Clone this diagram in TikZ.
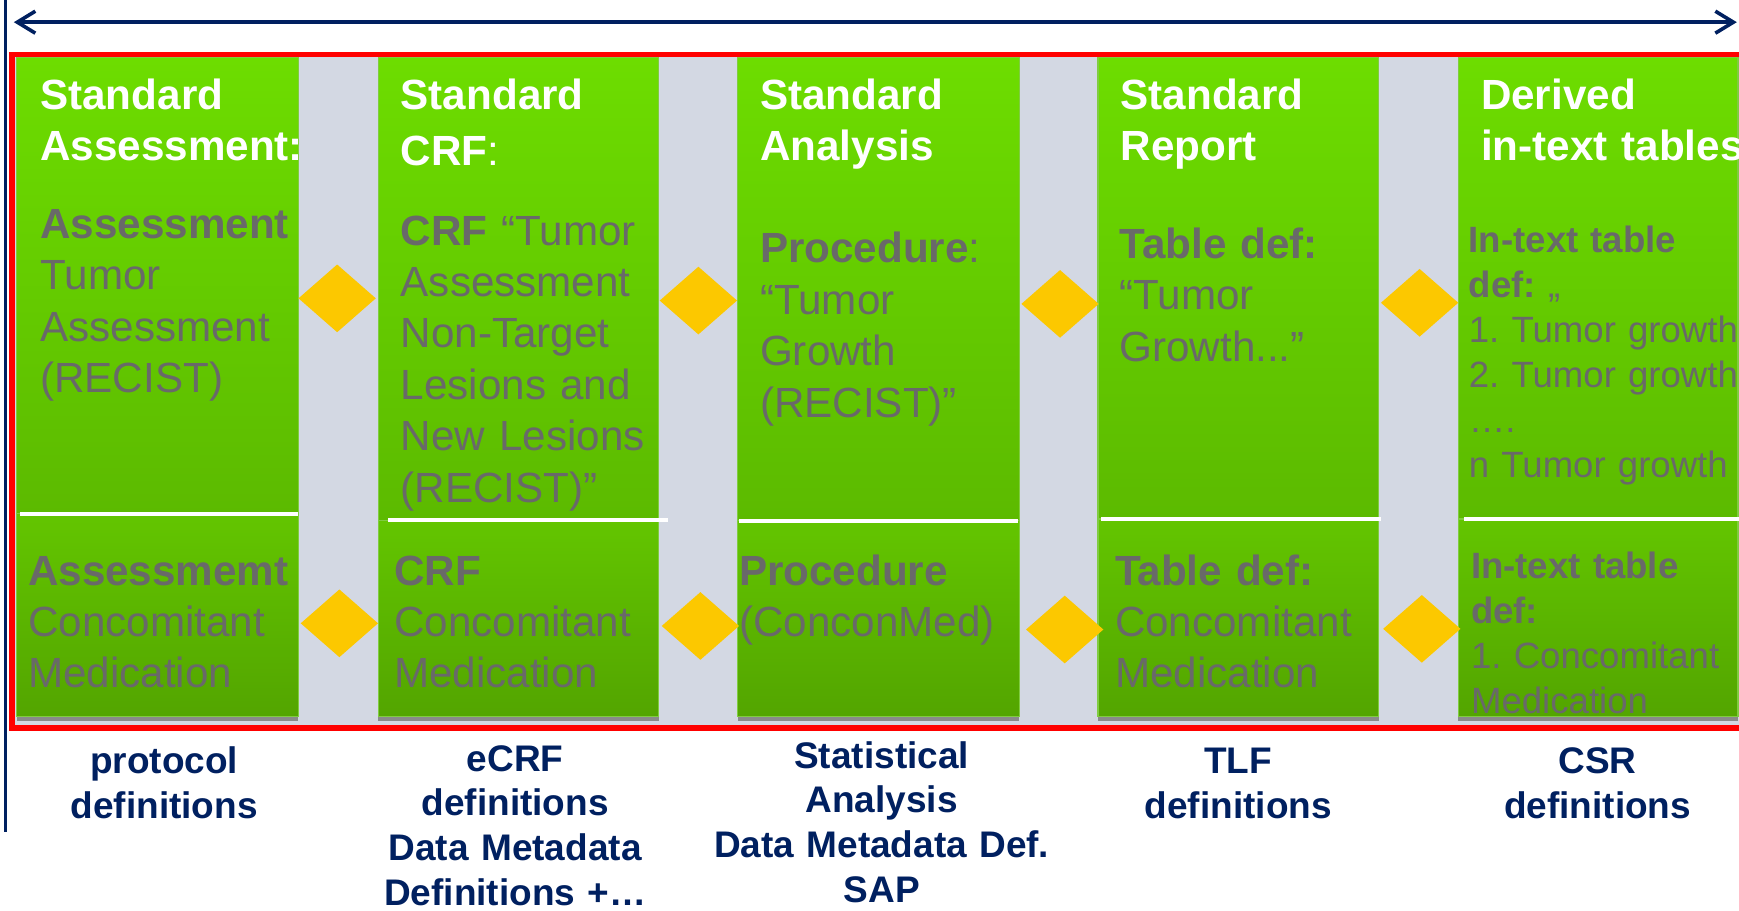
\documentclass[tikz,border=0pt]{standalone}
\usepackage{fontspec}
\setmainfont{Liberation Sans}
\usetikzlibrary{arrows.meta,shapes.geometric}
\frenchspacing
\definecolor{navy}{HTML}{002060}
\definecolor{txtgray}{HTML}{696969}
\definecolor{gapbg}{HTML}{D3D8E3}
\definecolor{gtop}{HTML}{6DDD00}
\definecolor{gmid}{HTML}{5CBA00}
\definecolor{gbtop}{HTML}{63C500}
\definecolor{gbbot}{HTML}{53A500}
\definecolor{gedge}{HTML}{80CC40}
\definecolor{yel}{HTML}{FCC800}
\definecolor{shadowgray}{HTML}{8A8A8A}
\definecolor{redline}{HTML}{FF0000}
\tikzset{
  ttl/.style={anchor=base west, inner sep=0pt, text width=150pt, align=left, text=white,
    font=\fontsize{21.1pt}{25.3pt}\selectfont\bfseries\frenchspacing},
  gtxt/.style={anchor=base west, inner sep=0pt, text width=150pt, align=left, text=txtgray,
    font=\fontsize{21.1pt}{25.7pt}\selectfont\frenchspacing},
  stxt/.style={anchor=base west, inner sep=0pt, text width=150pt, align=left, text=txtgray,
    font=\fontsize{18.3pt}{22.45pt}\selectfont\frenchspacing},
  lbl/.style={anchor=base, inner sep=0pt, text width=178pt, align=center, text=navy,
    font=\fontsize{18.5pt}{22.3pt}\selectfont\bfseries\frenchspacing},
  diam/.style={shape=diamond, fill=yel, draw=none, inner sep=0pt,
    minimum width=38.8pt, minimum height=34pt},
  toptop/.style={top color=gtop, bottom color=gmid, draw=gedge, line width=0.6pt},
  botbox/.style={top color=gbtop, bottom color=gbbot, draw=gedge, line width=0.6pt},
  sepline/.style={white, line width=2pt},
  navyline/.style={navy, line width=1.8pt},
}
\begin{document}
\begin{tikzpicture}[x=0.5545pt, y=-0.5545pt]
\useasboundingbox[fill=white] (0,0) rectangle (1568,820.6);

% background inside red frame
\fill[gapbg] (11,49) rectangle (1600,656.5);

% columns
\foreach \xa/\xb/\ys/\la/\lb in {15/269/463/18/269, 341/594/469/350/602, 665/919/469.5/666/918, 990/1243/468/993/1245, 1315/1567/468/1320/1572} {
  \fill[shadowgray] (\xa,600) rectangle (\xb,650.5);
  \shade[toptop] (\xa,52) rectangle (\xb,\ys);
  \shade[botbox] (\xa,\ys) rectangle (\xb,646);
  \draw[sepline] (\la,\ys) -- (\lb,\ys);
}

% red frame
\draw[redline, line width=2.7pt] (1600,49) -- (11,49) -- (11,656.5) -- (1600,656.5);

% top double arrow and left rule
\coordinate (aL) at (12.5,20);
\coordinate (aR) at (1566,20);
\draw[navyline, {Straight Barb[length=9pt,width=11pt]}-{Straight Barb[length=9pt,width=11pt]}] (aL) -- (aR);
\coordinate (vT) at (5,0);
\coordinate (vB) at (5,750);
\draw[navy, line width=1.6pt] (vT) -- (vB);

% diamonds
\node[diam] (d1) at (304,269) {};
\node[diam] (d2) at (629.7,271) {};
\node[diam] (d3) at (955.8,274) {};
\node[diam] (d4) at (1280,273) {};
\node[diam] (e1) at (306,562) {};
\node[diam] (e2) at (631.5,564.4) {};
\node[diam] (e3) at (960,567.6) {};
\node[diam] (e4) at (1282,567) {};

% column 1
\node[ttl] (t1) at (36,99) {Standard\\Assessment:};
\node[gtxt] (g1) at (36,215) {\textbf{Assessment}\\Tumor\\Assessment\\(RECIST)};
\node[gtxt] (b1) at (25,527.5) {\textbf{Assessmemt}\\Concomitant\\Medication};
\node[lbl] (l1) at (148,697.4) {protocol\\definitions};

% column 2
\node[ttl] (t2) at (361,99) {Standard\\[2.5pt]CRF\textmd{:}};
\node[gtxt] (g2) at (361,221) {\textbf{CRF} “Tumor\\Assessment\\Non-Target\\Lesions and\\New Lesions\\(RECIST)”};
\node[gtxt] (b2) at (355,527.5) {\textbf{CRF}\\Concomitant\\Medication};
\node[lbl] (l2) at (464.5,695.5) {eCRF\\definitions\\Data Metadata\\Definitions +…};

% column 3
\node[ttl] (t3) at (685,99) {Standard\\Analysis};
\node[gtxt] (g3) at (685,237) {\textbf{Procedure}:\\“Tumor\\Growth\\(RECIST)”};
\node[gtxt] (b3) at (666,527.5) {\textbf{Procedure}\\(ConconMed)};
\node[lbl] (l3) at (795,692.8) {Statistical\\Analysis\\Data Metadata Def.\\SAP};

% column 4
\node[ttl] (t4) at (1010,99) {Standard\\Report};
\node[gtxt] (g4) at (1009,233) {\textbf{Table def:}\\“Tumor\\Growth...”};
\node[gtxt] (b4) at (1005,527.5) {\textbf{Table def:}\\Concomitant\\Medication};
\node[lbl] (l4) at (1116.5,697.4) {TLF\\definitions};

% column 5
\node[ttl] (t5) at (1335,99) {Derived\\in-text tables};
\node[stxt] (g5) at (1324,228) {\textbf{In-text table}\\\textbf{def:} „\\1. Tumor growth\\2. Tumor growth\\….\\n Tumor growth};
\node[stxt] (b5) at (1326,522) {\textbf{In-text table}\\\textbf{def:}\\1. Concomitant\\Medication};
\node[lbl] (l5) at (1440.5,697.4) {CSR\\definitions};
\end{tikzpicture}
\end{document}
